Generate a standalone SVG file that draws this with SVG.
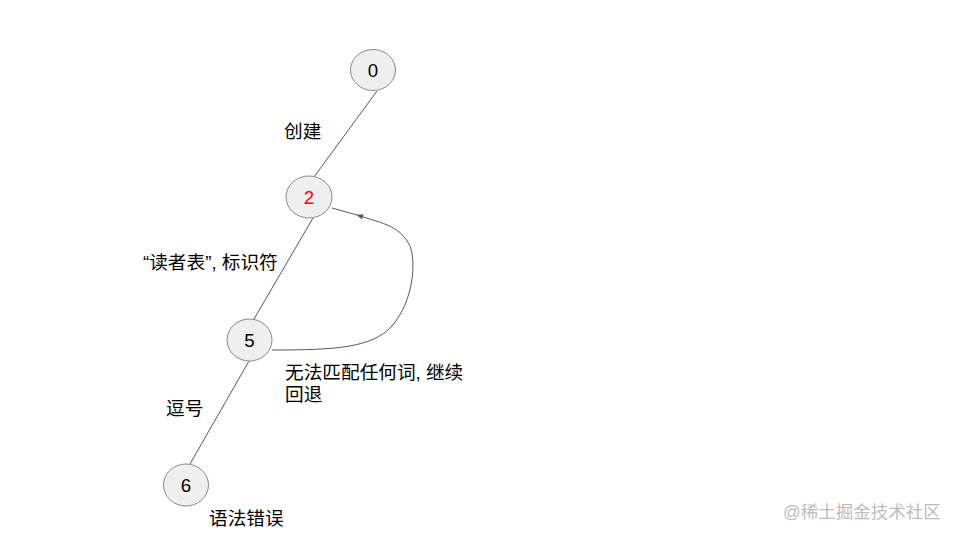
<svg xmlns="http://www.w3.org/2000/svg" width="960" height="540" viewBox="0 0 960 540">
<style>
.node ellipse{fill:#efefef;stroke:#8a8a8a;stroke-width:1}
.node text{font-family:"Liberation Sans","Noto Sans CJK SC",sans-serif;font-size:18.67px;text-anchor:middle;fill:#000}
.edge{fill:none;stroke:#595959;stroke-width:1}
.lbl{font-family:"Liberation Sans","Noto Sans CJK SC",sans-serif;font-size:18.67px;fill:#000}
.wm{font-family:"Liberation Sans","Noto Sans CJK SC",sans-serif;font-size:17.5px;fill:#bdbdbd}
</style>
<defs>
<marker id="arr" viewBox="0 0 10 10" refX="9" refY="5" markerWidth="7" markerHeight="7" orient="auto" markerUnits="userSpaceOnUse">
<path d="M0,1 L10,5 L0,9 Z" fill="#595959"/>
</marker>
</defs>
<rect width="960" height="540" fill="#fff"/>
<g id="connectors">
<line class="edge" x1="377" y1="91" x2="314" y2="177"/>
<line class="edge" x1="313" y1="218" x2="254" y2="319"/>
<line class="edge" x1="249" y1="361" x2="190" y2="464"/>
<path class="edge" marker-end="url(#arr)" d="M272,350 C335,350 372,348 392,326 C414,300 416,262 410,246 C400,226 385,224 357,215"/>
<path class="edge" d="M357,215 L332,208"/>
</g>
<g id="node0" class="node"><ellipse cx="373" cy="70" rx="22.5" ry="20.5"/><text x="373" y="77">0</text></g>
<g id="node2" class="node"><ellipse cx="309" cy="197" rx="23" ry="21"/><text x="309" y="204" style="fill:#ff0000">2</text></g>
<g id="node5" class="node"><ellipse cx="249.5" cy="340" rx="22.5" ry="21"/><text x="249.5" y="347">5</text></g>
<g id="node6" class="node"><ellipse cx="186" cy="485" rx="22.5" ry="21"/><text x="186" y="492">6</text></g>
<g id="labels">
<text class="lbl" x="284" y="138">创建</text>
<text class="lbl" x="143" y="269">“读者表”, 标识符</text>
<text class="lbl" x="285" y="379">无法匹配任何词, 继续</text>
<text class="lbl" x="285" y="401">回退</text>
<text class="lbl" x="166" y="415">逗号</text>
<text class="lbl" x="209" y="525">语法错误</text>
</g>
<text class="wm" x="783" y="518">@稀土掘金技术社区</text>
</svg>
